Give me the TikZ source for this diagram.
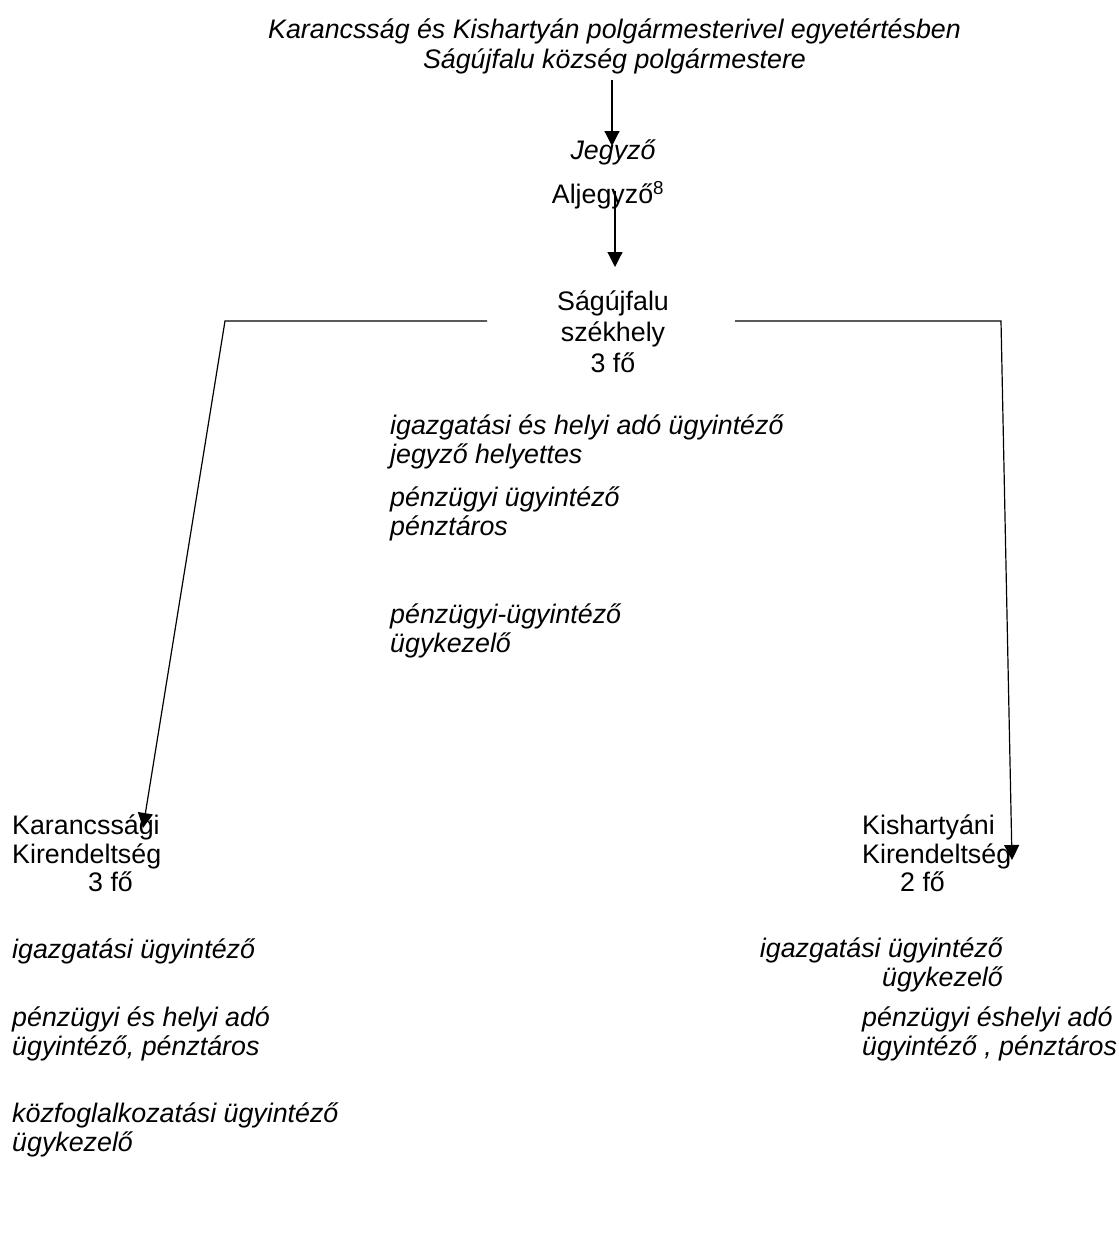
\documentclass[tikz,border=0pt]{standalone}
\usepackage{fontspec}
\setmainfont{Liberation Sans}
\usetikzlibrary{arrows.meta}

\tikzset{
    lbl/.style={inner sep=0pt, font=\fontsize{26.8}{28.5}\selectfont},
    role/.style={inner sep=0pt, font=\fontsize{26.8}{28.5}\selectfont\itshape, align=left, anchor=west},
    arr/.style={-{Triangle[length=15pt,width=15pt]}, line width=1.2pt},
    con/.style={line width=1.2pt}
}

\begin{document}
\begin{tikzpicture}[x=1pt, y=-1pt]
    \useasboundingbox (0,0) rectangle (1119,1237);

    % Head of the office
    \node[lbl, font=\fontsize{26.8}{30}\selectfont\itshape, align=center] (mayor) at (614.5,46)
        {Karancsság és Kishartyán polgármesterivel egyetértésben\\Ságújfalu község polgármestere};
    \node[lbl, font=\fontsize{26.8}{28.5}\selectfont\itshape] (jegyzo) at (613,152) {Jegyző};
    \node[lbl] (aljegyzo) at (608,195) {Aljegyző\textsuperscript{8}};
    \node[lbl, align=center, font=\fontsize{26.8}{31}\selectfont] (szekhely) at (613,332)
        {Ságújfalu\\székhely\\3 fő};

    % Branch offices
    \node[lbl, align=left, anchor=west] (karancs) at (12,853.5)
        {Karancssági\\Kirendeltség\\\hspace*{76pt}3 fő};
    \node[lbl, align=left, anchor=west] (kishart) at (862,853.5)
        {Kishartyáni\\Kirendeltség\\\hspace*{38pt}2 fő};

    % Staff of each office
    \foreach \name/\x/\y/\txt in {
        sz1/390/442/{igazgatási és helyi adó ügyintéző\\jegyző helyettes},
        sz2/390/514/{pénzügyi ügyintéző\\pénztáros},
        sz3/390/631/{pénzügyi-ügyintéző\\ügykezelő},
        ka1/12/951/{igazgatási ügyintéző},
        ka2/12/1034/{pénzügyi és helyi adó\\ügyintéző, pénztáros},
        ka3/12/1130/{közfoglalkozatási ügyintéző\\ügykezelő},
        ki2/862/1034/{pénzügyi éshelyi adó\\ügyintéző , pénztáros}}
        \node[role] (\name) at (\x,\y) {\txt};
    \node[role, align=right, anchor=east] (ki1) at (1003,965)
        {igazgatási ügyintéző\\ügykezelő};

    % Connectors
    \coordinate (a1top) at (612,80);
    \coordinate (a1tip) at (612,146);
    \coordinate (a2top) at (615,191);
    \coordinate (a2tip) at (615,267);
    \coordinate (lstart) at (487,321);
    \coordinate (lcorner) at (225,321);
    \coordinate (ltip) at (143,828);
    \coordinate (rstart) at (735,321);
    \coordinate (rcorner) at (1001,321);
    \coordinate (rtip) at (1012,860);

    \draw[arr] (a1top) -- (a1tip);
    \draw[arr] (a2top) -- (a2tip);
    \draw[arr] (lstart) -- (lcorner) -- (ltip);
    \draw[arr] (rstart) -- (rcorner) -- (rtip);
\end{tikzpicture}
\end{document}
